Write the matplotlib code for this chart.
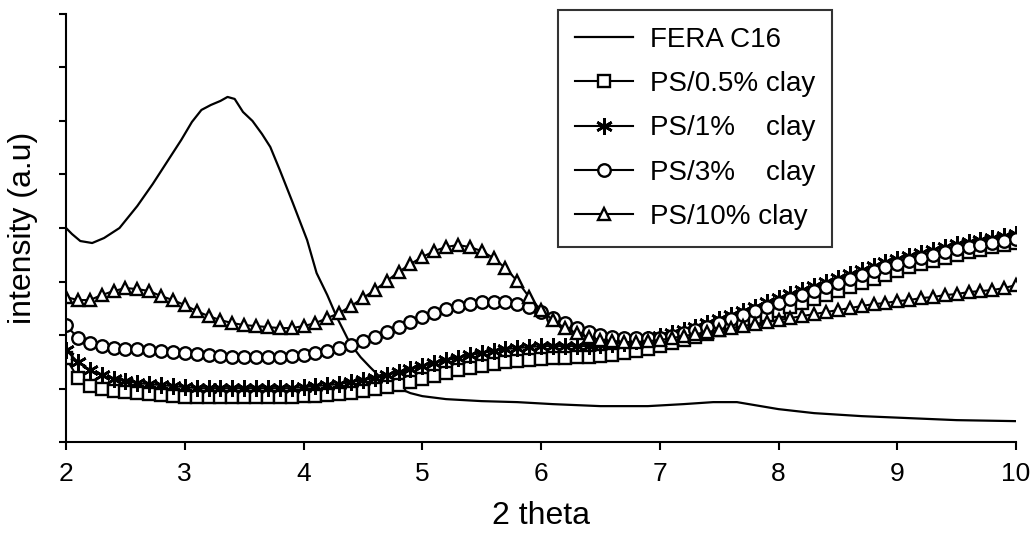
import matplotlib.pyplot as plt
import numpy as np

plt.rcParams['font.family'] = ['Liberation Sans', 'DejaVu Sans']

# 2 theta grid for the clay samples (step 0.1)
two_theta = np.round(np.arange(2.0, 10.05, 0.1), 1)

# intensities, arbitrary units
ps_05 = [84, 64, 56, 53, 51, 50, 49, 48, 47, 46,
         45, 45, 45, 45, 45, 45, 45, 45, 45, 45,
         46, 46, 47, 48, 49, 51, 53, 55, 57, 60,
         63, 66, 69, 72, 74, 76, 78, 80, 81, 82,
         83, 84, 84, 85, 85, 86, 87, 89, 91, 93,
         96, 99, 102, 105, 108, 112, 115, 119, 123, 127,
         131, 135, 139, 143, 147, 151, 155, 159, 163, 167,
         171, 175, 178, 181, 184, 187, 190, 192, 195, 197,
         199]
ps_1 = [92, 80, 72, 67, 63, 61, 59, 58, 57, 56,
        55, 54, 54, 54, 54, 54, 54, 54, 54, 54,
        55, 56, 57, 58, 60, 62, 64, 67, 70, 73,
        76, 79, 82, 84, 87, 89, 91, 93, 94, 95,
        96, 96, 96, 96, 96, 97, 98, 99, 101, 103,
        106, 109, 112, 115, 119, 123, 127, 131, 135, 140,
        144, 148, 152, 156, 160, 164, 168, 172, 176, 180,
        183, 186, 189, 192, 195, 198, 200, 202, 204, 206,
        208]
ps_3 = [117, 104, 99, 96, 94, 93, 93, 92, 91, 90,
        89, 88, 87, 86, 85, 85, 85, 85, 85, 86,
        87, 89, 91, 94, 97, 101, 105, 110, 115, 120,
        125, 129, 133, 136, 138, 140, 140, 140, 138, 135,
        130, 124, 119, 114, 110, 107, 105, 104, 104, 104,
        104, 106, 109, 112, 115, 119, 123, 127, 131, 135,
        139, 143, 147, 151, 155, 159, 163, 167, 171, 175,
        178, 181, 184, 187, 190, 193, 195, 197, 199, 201,
        203]
ps_10 = [145, 142, 142, 147, 151, 154, 153, 151, 146, 142,
         137, 131, 126, 122, 119, 117, 116, 115, 114, 114,
         116, 119, 124, 129, 136, 144, 152, 161, 170, 178,
         185, 191, 195, 197, 195, 191, 184, 174, 161, 145,
         132, 122, 114, 109, 105, 102, 101, 100, 100, 101,
         102, 104, 106, 108, 110, 112, 114, 116, 118, 120,
         122, 124, 126, 128, 130, 132, 134, 136, 138, 139,
         141, 142, 144, 145, 147, 148, 150, 151, 152, 154,
         157]

# organoclay reference curve
fera_x = [1.95, 2.05, 2.12, 2.22, 2.32, 2.45, 2.6, 2.73, 2.85, 2.97,
          3.06, 3.14, 3.22, 3.3, 3.36, 3.42, 3.49, 3.57, 3.65, 3.72,
          3.8, 3.91, 4.03, 4.11, 4.2, 4.28, 4.39, 4.48, 4.56,
          4.67, 4.78, 4.9, 5.0, 5.2, 5.5, 5.8, 6.1, 6.5, 6.9,
          7.2, 7.45, 7.65, 7.8, 8.0, 8.3, 8.7, 9.1, 9.5, 10.0]
fera_y = [220, 208, 201, 199, 204, 214, 236, 258, 280, 302,
          320, 332, 337, 341, 345, 343, 330, 321, 308, 295,
          272, 239, 202, 169, 147, 125, 99, 85, 75,
          62, 55, 49, 46, 43, 41, 40, 38, 36, 36,
          38, 40, 40, 37, 33, 29, 26, 24, 22, 21]

fig = plt.figure(figsize=(10.32, 5.34), dpi=100)
ax = fig.add_axes([0.064, 0.172, 0.9205, 0.802])

ax.plot(fera_x, fera_y, '-', color='black', lw=1.6, label='FERA C16')
mk = dict(color='black', lw=1.5, markersize=9, markerfacecolor='white',
          markeredgecolor='black', markeredgewidth=1.7)
ax.plot(two_theta, ps_05, marker='s', label='PS/0.5% clay', **mk)
ax.plot(two_theta, ps_1, marker=(6, 2, 0), label='PS/1%    clay',
        **{**mk, 'markersize': 12, 'markeredgewidth': 1.9})
ax.plot(two_theta, ps_3, marker='o', label='PS/3%    clay', **mk)
ax.plot(two_theta, ps_10, marker='^', label='PS/10% clay', **mk)

ax.set_xlim(2, 10)
ax.set_ylim(0, 428)
ax.set_xticks(range(2, 11))
ax.set_yticks(np.arange(0, 429, 53.5))
ax.set_yticklabels([])
ax.tick_params(axis='x', labelsize=19, length=6, width=1.5, pad=8)
ax.tick_params(axis='y', length=5, width=1.5)
for s in ['top', 'right']:
    ax.spines[s].set_visible(False)
for s in ['left', 'bottom']:
    ax.spines[s].set_linewidth(1.5)

ax.set_xlabel('2 theta', fontsize=23, labelpad=11)
ax.set_ylabel('intensity (a.u)', fontsize=23, labelpad=12)

leg = ax.legend(loc='upper left', bbox_to_anchor=(558 / 1032, 1 - 10 / 534),
                bbox_transform=fig.transFigure, fontsize=20, frameon=True,
                fancybox=False, edgecolor='black', handlelength=2.1,
                labelspacing=0.66, borderpad=0.6, handletextpad=0.6,
                borderaxespad=0)
leg.get_frame().set_linewidth(1.5)

fig.savefig('out.png', dpi=100)
